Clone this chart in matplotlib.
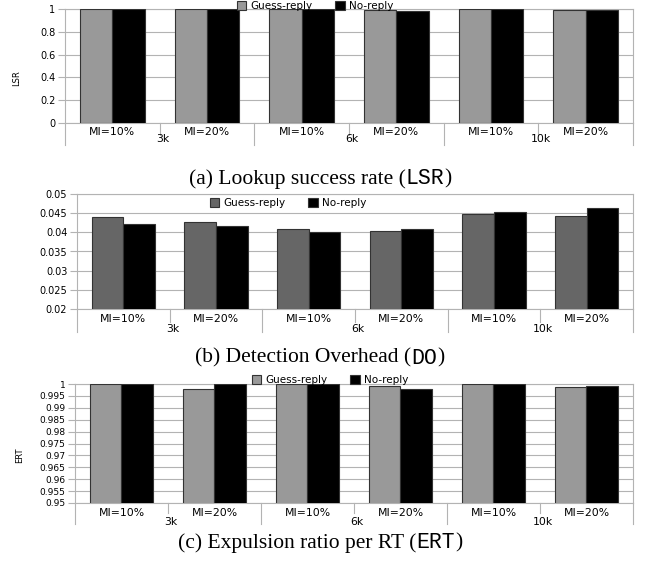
import matplotlib
matplotlib.use('Agg')
import matplotlib.pyplot as plt
from matplotlib.patches import Patch
import numpy as np

# categories
groups = ['3k', '6k', '10k']
mi_labels = ['MI=10%', 'MI=20%']
series = ['Guess-reply', 'No-reply']

# (a) lookup success rate
lsr_guess = [1.0, 1.0, 1.0, 0.988, 1.0, 0.988]
lsr_no = [1.0, 1.0, 1.0, 0.982, 1.0, 0.988]

# (b) detection overhead
do_guess = [0.0439, 0.0426, 0.0409, 0.0403, 0.0449, 0.0443]
do_no = [0.0422, 0.0417, 0.0402, 0.0410, 0.0453, 0.0463]

# (c) expulsion ratio per RT
ert_guess = [1.0, 0.9979, 1.0, 0.9990, 1.0, 0.9986]
ert_no = [1.0, 1.0, 1.0, 0.9980, 1.0, 0.9992]

lsr_ticks = [0, 0.2, 0.4, 0.6, 0.8, 1]
lsr_ticklabels = ['0', '0.2', '0.4', '0.6', '0.8', '1']
do_ticks = [0.02, 0.025, 0.03, 0.035, 0.04, 0.045, 0.05]
do_ticklabels = ['0.02', '0.025', '0.03', '0.035', '0.04', '0.045', '0.05']
ert_ticks = [0.95, 0.955, 0.96, 0.965, 0.97, 0.975, 0.98, 0.985, 0.99, 0.995, 1]
ert_ticklabels = ['0.95', '0.955', '0.96', '0.965', '0.97', '0.975', '0.98',
                  '0.985', '0.99', '0.995', '1']

W, H = 651, 561
GRID = '#b3b3b3'
fig = plt.figure(figsize=(W / 100, H / 100), dpi=100)


def box(l, t, r, b):
    # pixel box -> figure fraction rect
    return [l / W, 1 - b / H, (r - l) / W, (b - t) / H]


def panel(rect, guess, no, guess_color, ylim, ticks, ticklabels, tick_fs,
          leg_xy, mi_off, grp_off, long_off, short_off):
    ax = fig.add_axes(box(*rect))
    x = np.arange(len(guess))
    w = 0.34
    ax.bar(x - w / 2, guess, w, color=guess_color, edgecolor='#333333',
           linewidth=0.8, zorder=3, label=series[0])
    ax.bar(x + w / 2, no, w, color='black', edgecolor='#333333',
           linewidth=0.8, zorder=3, label=series[1])
    ax.set_xlim(-0.5, len(guess) - 0.5)
    ax.set_ylim(*ylim)
    ax.set_yticks(ticks)
    ax.set_yticklabels(ticklabels)
    ax.set_xticks([])
    ax.yaxis.grid(True, color=GRID, lw=0.8)
    ax.set_axisbelow(True)
    for s in ax.spines.values():
        s.set_color(GRID)
        s.set_linewidth(0.8)
    ax.tick_params(axis='y', length=5, color=GRID, labelsize=tick_fs, pad=2)

    # two level category axis
    for i in range(len(guess)):
        ax.annotate(mi_labels[i % 2], (i, 0), xycoords=('data', 'axes fraction'),
                    xytext=(0, -mi_off), textcoords='offset pixels',
                    ha='center', va='center', fontsize=7.8)
    for g, name in enumerate(groups):
        ax.annotate(name, (2 * g + 0.5, 0), xycoords=('data', 'axes fraction'),
                    xytext=(3, -grp_off), textcoords='offset pixels',
                    ha='center', va='center', fontsize=7.8)
    trans = ax.get_xaxis_transform()
    hpx = (rect[3] - rect[1])
    for xs in [-0.5, 1.5, 3.5, 5.5]:
        ax.plot([xs, xs], [0, -long_off / hpx], color=GRID, lw=0.8,
                transform=trans, clip_on=False)
    for xs in [0.5, 2.5, 4.5]:
        ax.plot([xs, xs], [0, -short_off / hpx], color=GRID, lw=0.8,
                transform=trans, clip_on=False)

    handles = [Patch(facecolor=guess_color, edgecolor='#333333', lw=0.8),
               Patch(facecolor='black', edgecolor='#333333', lw=0.8)]
    fig.legend(handles, series, loc='center', ncol=2, frameon=False,
               bbox_to_anchor=(leg_xy[0] / W, 1 - leg_xy[1] / H),
               fontsize=7.5, handlelength=0.9, handleheight=0.9,
               handletextpad=0.4, columnspacing=2.2, borderpad=0)
    return ax


def caption(y, pre, mono):
    # caption mixes serif text and a monospace abbreviation
    r = fig.canvas.get_renderer()
    parts = [(pre + ' (', 'Liberation Serif'), (mono, 'Liberation Mono'),
             (')', 'Liberation Serif')]
    texts = [fig.text(0, 1 - y / H, s, family=f, fontsize=15.5, va='center')
             for s, f in parts]
    widths = [t.get_window_extent(r).width for t in texts]
    x = 320 - sum(widths) / 2
    for t, wd in zip(texts, widths):
        t.set_x(x / W)
        x += wd


panel((65, 9, 633, 123), lsr_guess, lsr_no, '#999999', (0, 1),
      lsr_ticks, lsr_ticklabels, 7, (315, 6), 9, 16, 22, 12)
fig.text(17 / W, 1 - 78 / H, 'LSR', rotation=90, fontsize=6,
         ha='center', va='center')
caption(179, '(a) Lookup success rate', 'LSR')

panel((77, 194, 633, 309), do_guess, do_no, '#666666', (0.02, 0.05),
      do_ticks, do_ticklabels, 7, (288, 203), 10, 20, 23, 13)
caption(358, '(b) Detection Overhead', 'DO')

panel((75, 384, 633, 503), ert_guess, ert_no, '#999999', (0.95, 1.0),
      ert_ticks, ert_ticklabels, 6.5, (330, 380), 10, 19, 21, 10)
fig.text(20 / W, 1 - 455 / H, 'ERT', rotation=90, fontsize=6,
         ha='center', va='center')
caption(543, '(c) Expulsion ratio per RT', 'ERT')

fig.savefig('out.png', dpi=100)
